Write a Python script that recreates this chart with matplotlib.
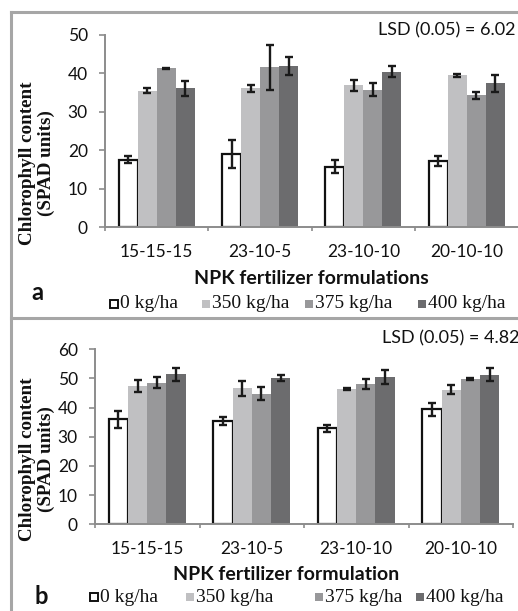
import numpy as np
import matplotlib.pyplot as plt
from matplotlib.patches import Rectangle
from matplotlib.lines import Line2D

formulations = ['15-15-15', '23-10-5', '23-10-10', '20-10-10']
rates = ['0 kg/ha', '350 kg/ha', '375 kg/ha', '400 kg/ha']

# panel a, one list per rate, values over the four formulations
a_0 = [17.6, 19.1, 15.7, 17.2]
a_350 = [35.5, 36.1, 36.9, 39.5]
a_375 = [41.3, 41.6, 35.8, 34.3]
a_400 = [36.1, 41.9, 40.5, 37.5]
a_err_0 = [1.0, 3.7, 1.7, 1.25]
a_err_350 = [0.65, 0.95, 1.4, 0.4]
a_err_375 = [0.2, 5.9, 1.7, 0.95]
a_err_400 = [1.95, 2.4, 1.5, 2.2]

# panel b
b_0 = [36.0, 35.5, 32.9, 39.5]
b_350 = [47.3, 46.6, 46.4, 46.1]
b_375 = [48.5, 44.8, 48.0, 49.8]
b_400 = [51.4, 50.2, 50.6, 51.3]
b_err_0 = [2.9, 1.3, 1.1, 2.2]
b_err_350 = [2.1, 2.6, 0.2, 1.5]
b_err_375 = [1.9, 2.3, 1.7, 0.2]
b_err_400 = [2.1, 1.1, 2.4, 2.3]

colors = ['white', '#c0c0c2', '#98989a', '#6c6c6e']
axis_col = '#8c8c8c'
W, H = 518, 611

fig = plt.figure(figsize=(W / 100, H / 100), dpi=100)


def px(x0, y0, x1, y1):
    # pixel box (top-left origin) -> figure fraction rect
    return [x0 / W, 1 - y1 / H, (x1 - x0) / W, (y1 - y0) / H]


def panel(rect, vals, errs, ymax, lsd, xlabel, letter, lsd_xy, ylab_y, xlab_xy, letter_xy, leg_y, leg_x):
    ax = fig.add_axes(rect)
    x = np.arange(len(formulations))
    w = 0.184
    for i in range(4):
        ax.bar(x + (i - 1.5) * w, vals[i], w, color=colors[i],
               edgecolor='#111111' if i == 0 else 'none',
               linewidth=1.6 if i == 0 else 0, zorder=2)
        ax.errorbar(x + (i - 1.5) * w, vals[i], yerr=errs[i], fmt='none',
                    ecolor='#1a1a1a', elinewidth=1.7, capsize=3, capthick=1.7, zorder=3)
    ax.set_xlim(-0.5, 3.5)
    ax.set_ylim(0, ymax)
    ax.set_yticks(np.arange(0, ymax + 1, 10))
    ax.set_xticks(x)
    ax.set_xticklabels(formulations)
    ax.set_xticks(np.arange(-0.5, 4, 1), minor=True)
    for s in ['top', 'right']:
        ax.spines[s].set_visible(False)
    for s in ['left', 'bottom']:
        ax.spines[s].set_color(axis_col)
        ax.spines[s].set_linewidth(1.4)
    ax.tick_params(axis='y', length=4.3, width=1.2, color=axis_col, pad=8,
                   labelsize=12.5, labelcolor='#111111')
    ax.tick_params(axis='x', which='major', length=0, pad=12,
                   labelsize=12.5, labelcolor='#111111')
    ax.tick_params(axis='x', which='minor', length=3.2, width=1.2, color=axis_col)
    for t in ax.get_xticklabels() + ax.get_yticklabels():
        t.set_family('Lato')
    ax.set_facecolor('none')

    fig.text(lsd_xy[0] / W, 1 - lsd_xy[1] / H, 'LSD (0.05) = ' + lsd, ha='right', va='center',
             family='Lato', fontsize=13, color='#111111')
    fig.text(37 / W, 1 - ylab_y / H, 'Chlorophyll content\n(SPAD units)', rotation=90,
             ha='center', va='center', multialignment='center', linespacing=1.1,
             family='Liberation Serif', fontweight='bold', fontsize=13.7, color='#111111')
    fig.text(xlab_xy[0] / W, 1 - xlab_xy[1] / H, xlabel, ha='center', va='center',
             family='Lato', fontweight='bold', fontsize=14, color='#111111')
    fig.text(letter_xy[0] / W, 1 - letter_xy[1] / H, letter, ha='center', va='center',
             family='Lato', fontweight='bold', fontsize=17, color='#111111')

    # legend entries
    for i in range(4):
        lx = leg_x[i]
        fig.add_artist(Rectangle((lx / W, 1 - (leg_y + 4) / H), 8 / W, 8 / H,
                                 facecolor=colors[i],
                                 edgecolor='#111111' if i == 0 else 'none',
                                 linewidth=1.4 if i == 0 else 0,
                                 transform=fig.transFigure))
        fig.text((lx + 10) / W, 1 - leg_y / H, rates[i], ha='left', va='center',
                 family='Liberation Serif', fontsize=14, color='#111111')
    return ax


panel(px(105, 35, 518.5, 227.3), [a_0, a_350, a_375, a_400],
      [a_err_0, a_err_350, a_err_375, a_err_400], 50, '6.02',
      'NPK fertilizer formulations', 'a', (515, 30), 163.5, (311.7, 278),
      (37.5, 292), 304, [110, 202, 305, 418])

panel(px(95, 349.3, 513, 524.3), [b_0, b_350, b_375, b_400],
      [b_err_0, b_err_350, b_err_375, b_err_400], 60, '4.82',
      'NPK fertilizer formulation', 'b', (519, 338), 459, (286, 575),
      (41.5, 597), 597, [90, 186, 315, 416])

# panel frames
border = '#a6a6a6'
fig.add_artist(Line2D([11 / W, 11 / W], [1 - 12 / H, 0], color=border, lw=2.2,
                      transform=fig.transFigure))
fig.add_artist(Line2D([11 / W, 1], [1 - 12 / H, 1 - 12 / H], color=border, lw=2.2,
                      transform=fig.transFigure))
fig.add_artist(Line2D([11 / W, 1], [1 - 318 / H, 1 - 318 / H], color=border, lw=2.2,
                      transform=fig.transFigure))

fig.savefig('out.png', dpi=100)
